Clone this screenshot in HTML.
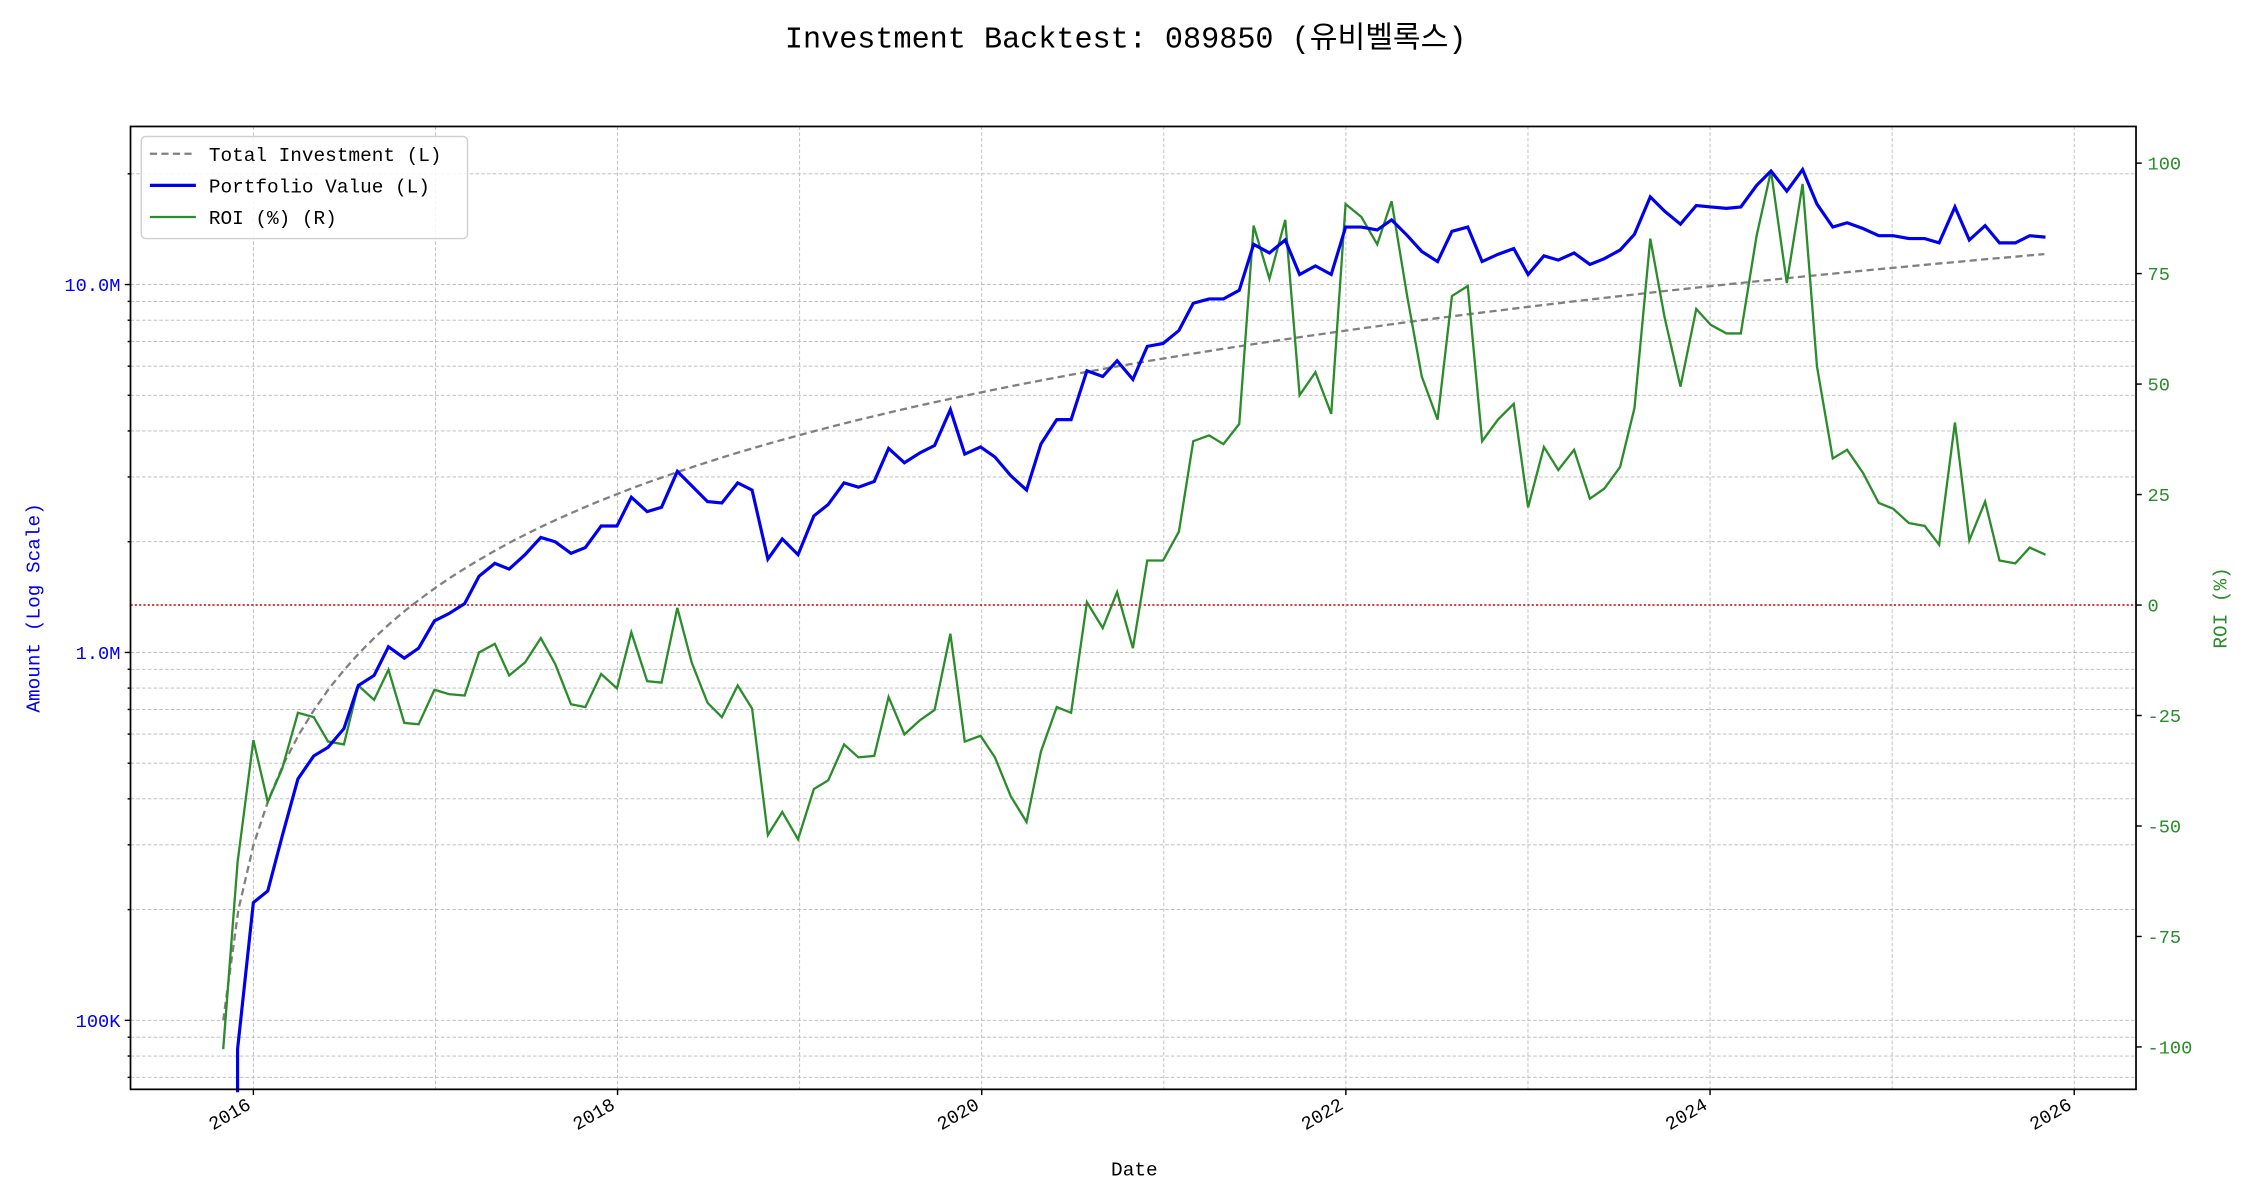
<!DOCTYPE html>
<html><head><meta charset="utf-8"><style>html,body{margin:0;padding:0;background:#fff}svg{display:block}text{font-family:"Liberation Mono","DejaVu Sans Mono","Noto Sans CJK KR",monospace}</style></head>
<body>
<svg id="s" width="2250" height="1200" viewBox="0 0 1565 835" xmlns="http://www.w3.org/2000/svg">
<rect width="1565" height="835" fill="#fff"/>
<text x="783" y="33" font-size="21" text-anchor="middle" fill="#000">Investment Backtest: 089850 (유비벨록스)</text>
<g id="grid" stroke="#b8b8b8" stroke-width="0.6" stroke-dasharray="2.5,1.5" fill="none"></g>
<line x1="90.5" x2="1486" y1="421" y2="421" stroke="#c00" stroke-width="1" stroke-dasharray="1.5,1.5"/>
<polyline id="inv" fill="none" stroke="#808080" stroke-width="1.6" stroke-dasharray="5,3"/>
<polyline fill="none" stroke="#2a8c2a" stroke-width="1.6" points="155,730 165,600 176,515 186,558 196,535 207,496 218,499 228,516 239,518 249,477 260,487 270,466 281,503 291,504 302,480 312,483 323,484 333,454 344,448 354,470 365,461 376,444 386,462 397,490 407,492 418,469 429,479 439,440 450,474 460,475 471,423 481,461 492,489 502,499 513,477 523,493 534,581 544,565 555,584 566,549 576,543 587,518 597,527 608,526 618,485 629,511 640,501 650,494 661,441 671,516 682,512 692,527 703,554 714,572 724,523 735,492 745,496 756,419 767,437 777,412 788,451 798,390 809,390 820,370 830,307 841,303 851,309 862,295 872,157 883,194 894,153 904,275 915,259 926,288 936,142 947,151 958,170 968,140 979,207 989,262 1000,292 1010,206 1021,199 1031,307 1042,292 1053,281 1063,353 1074,311 1084,327 1095,313 1106,347 1116,340 1127,325 1137,284 1148,166 1158,221 1169,269 1180,215 1190,226 1201,232 1211,232 1222,164 1232,119 1243,197 1254,128 1264,255 1275,319 1285,313 1296,329 1307,350 1317,354 1328,364 1339,366 1349,379 1360,294 1370,376 1381,349 1391,390 1402,392 1412,381 1423,386"/>
<polyline fill="none" stroke="#0000ee" stroke-width="2.2" points="165,760 165,730 176,628 186,620 196,582 207,542 218,526 228,520 239,507 249,477 260,470 270,450 281,458 291,451 302,432 312,427 323,420 333,401 344,392 354,396 365,386 376,374 386,377 397,385 407,381 418,366 429,366 439,346 450,356 460,353 471,328 481,338 492,349 502,350 513,336 523,341 534,389 544,375 555,386 566,359 576,351 587,336 597,339 608,335 618,312 629,322 640,315 650,310 661,285 671,316 682,311 692,318 703,331 714,341 724,309 735,292 745,292 756,258 767,262 777,251 788,264 798,241 809,239 820,230 830,211 841,208 851,208 862,202 872,170 883,176 894,167 904,191 915,185 926,191 936,158 947,158 958,160 968,153 979,164 989,175 1000,182 1010,161 1021,158 1031,182 1042,177 1053,173 1063,191 1074,178 1084,181 1095,176 1106,184 1116,180 1127,174 1137,163 1148,137 1158,147 1169,156 1180,143 1190,144 1201,145 1211,144 1222,129 1232,119 1243,133 1254,118 1264,142 1275,158 1285,155 1296,159 1307,164 1317,164 1328,166 1339,166 1349,169 1360,144 1370,167 1381,157 1391,169 1402,169 1412,164 1423,165"/>
<rect x="90.5" y="88" width="1395.5" height="670" fill="none" stroke="#000" stroke-width="1.2"/>
<g id="ticks" stroke="#000" stroke-width="1"></g>
<g id="labels" font-size="13"></g>
<g>
<rect x="98" y="95" width="227" height="71" rx="3" fill="#fff" fill-opacity="0.85" stroke="#d0d0d0"/>
<line x1="104" x2="136" y1="107" y2="107" stroke="#808080" stroke-width="1.6" stroke-dasharray="5,3"/>
<line x1="104" x2="136" y1="129" y2="129" stroke="#0000ee" stroke-width="2.2"/>
<line x1="104" x2="136" y1="151" y2="151" stroke="#2a8c2a" stroke-width="1.6"/>
<text x="145" y="112" font-size="13.5">Total Investment (L)</text>
<text x="145" y="134" font-size="13.5">Portfolio Value (L)</text>
<text x="145" y="156" font-size="13.5">ROI (%) (R)</text>
</g>
<text x="789" y="818" font-size="13.5" text-anchor="middle">Date</text>
<text transform="translate(27,423) rotate(-90)" font-size="13.5" text-anchor="middle" fill="#0000ee">Amount (Log Scale)</text>
<text transform="translate(1549,423) rotate(-90)" font-size="13.5" text-anchor="middle" fill="#2a8c2a">ROI (%)</text>
</svg>
<script>
var NS="http://www.w3.org/2000/svg";
function el(p,t,a,txt){var e=document.createElementNS(NS,t);for(var k in a)e.setAttribute(k,a[k]);if(txt)e.textContent=txt;document.getElementById(p).appendChild(e);return e;}
var L=90.5,R=1486,T=88,B=758;
function ly(v){return 710-256*(Math.log10(v)-5);}
var pts=[];for(var k=1;k<=121;k++){pts.push((155+10.56*(k-1)).toFixed(1)+","+ly(100000*k).toFixed(1));}
document.getElementById("inv").setAttribute("points",pts.join(" "));
for(var i=0;i<=10;i++){var x=176+126.7*i;el("grid","line",{x1:x,x2:x,y1:T,y2:B});
if(i%2==0){el("ticks","line",{x1:x,x2:x,y1:B,y2:B+4});
el("labels","text",{transform:"translate("+(x-1)+","+(B+13)+") rotate(-30)","text-anchor":"end"},String(2016+i));}}
for(var d=4;d<=7;d++){for(var m=1;m<=9;m++){var v=m*Math.pow(10,d);var y=ly(v);if(y<T||y>B)continue;
el("grid","line",{x1:L,x2:R,y1:y,y2:y});el("ticks","line",{x1:L-(m==1?4:2),x2:L,y1:y,y2:y});
if(m==1&&d>=5){var lab=d==5?"100K":(d==6?"1.0M":"10.0M");el("labels","text",{x:L-7,y:y+4.5,"text-anchor":"end",fill:"#0000ee"},lab);}}}
for(var r=-100;r<=100;r+=25){var y=421-r*3.075;el("ticks","line",{x1:R,x2:R+4,y1:y,y2:y});
el("labels","text",{x:R+8,y:y+4.5,fill:"#2a8c2a"},String(r));}
</script>
</body></html>
